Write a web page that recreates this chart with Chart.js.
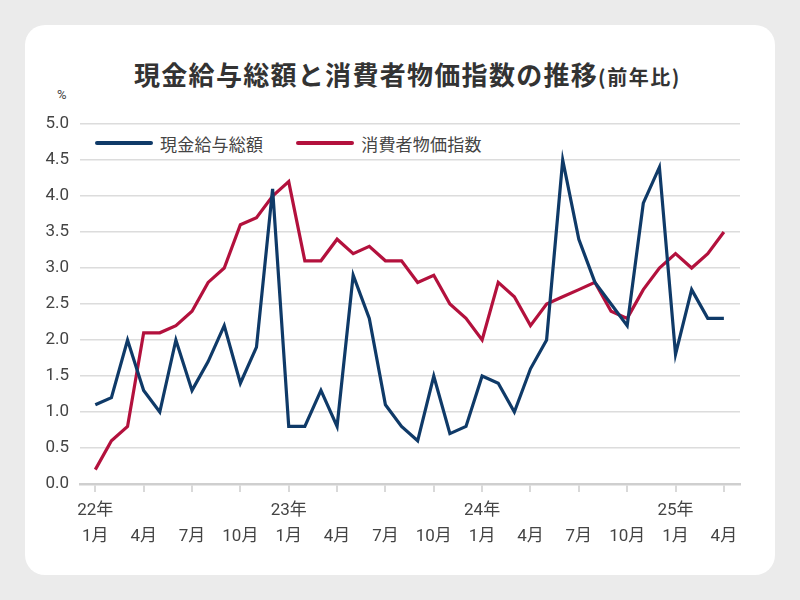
<!DOCTYPE html>
<html lang="ja">
<head>
<meta charset="utf-8">
<script src="https://cdn.jsdelivr.net/npm/chart.js@4.4.1/dist/chart.umd.min.js"></script>
<style>
  html, body { margin: 0; padding: 0; }
  body { width: 800px; height: 600px; background: #ebebeb; position: relative; overflow: hidden; font-family: 'Noto Sans CJK JP', 'Noto Sans', sans-serif; }
  #card { position: absolute; left: 25px; top: 25px; width: 750px; height: 550px; background: #fff; border-radius: 20px; }
  #title { position: absolute; left: 134px; top: 55px; white-space: nowrap; color: #333; font-weight: bold; }
  #title .main { font-size: 26px; letter-spacing: 1.3px; }
  #title .sub { font-size: 20px; letter-spacing: 1.5px; }
  #unit { position: absolute; left: 57px; top: 87px; font-size: 13px; color: #444; font-family: Roboto, sans-serif; }
  #legend { position: absolute; left: 95px; top: 130px; display: flex; align-items: center; height: 26px; }
  .item { display: flex; align-items: center; }
  .swatch { width: 58px; height: 4px; border-radius: 2px; }
  .lbl { font-size: 17px; color: #444; margin-left: 7px; letter-spacing: 0.2px; }
  canvas { position: absolute; left: 0; top: 0; }
</style>
</head>
<body>
<div id="card"></div>
<div id="title"><span class="main">現金給与総額と消費者物価指数の推移</span><span class="sub">(前年比)</span></div>
<div id="unit">%</div>
<div id="legend"></div>
<canvas id="c" width="800" height="600"></canvas>
<script>
// ---- data (22年1月 〜 25年4月, monthly) ----
const categories = [
  '22年1月','22年2月','22年3月','22年4月','22年5月','22年6月','22年7月','22年8月','22年9月','22年10月','22年11月','22年12月',
  '23年1月','23年2月','23年3月','23年4月','23年5月','23年6月','23年7月','23年8月','23年9月','23年10月','23年11月','23年12月',
  '24年1月','24年2月','24年3月','24年4月','24年5月','24年6月','24年7月','24年8月','24年9月','24年10月','24年11月','24年12月',
  '25年1月','25年2月','25年3月','25年4月'
];
const wages = [
  1.1, 1.2, 2.0, 1.3, 1.0, 2.0, 1.3, 1.7, 2.2, 1.4, 1.9, 4.1,
  0.8, 0.8, 1.3, 0.8, 2.9, 2.3, 1.1, 0.8, 0.6, 1.5, 0.7, 0.8,
  1.5, 1.4, 1.0, 1.6, 2.0, 4.5, 3.4, 2.8, 2.5, 2.2, 3.9, 4.4,
  1.8, 2.7, 2.3, 2.3
];
const cpi = [
  0.2, 0.6, 0.8, 2.1, 2.1, 2.2, 2.4, 2.8, 3.0, 3.6, 3.7, 4.0,
  4.2, 3.1, 3.1, 3.4, 3.2, 3.3, 3.1, 3.1, 2.8, 2.9, 2.5, 2.3,
  2.0, 2.8, 2.6, 2.2, 2.5, 2.6, 2.7, 2.8, 2.4, 2.3, 2.7, 3.0,
  3.2, 3.0, 3.2, 3.5
];
const seriesNames = ['現金給与総額', '消費者物価指数'];
const seriesColors = ['#0f3a68', '#b3113d'];
const tickIndex = [0, 3, 6, 9, 12, 15, 18, 21, 24, 27, 30, 33, 36, 39];
const tickYears = ['22年', '', '', '', '23年', '', '', '', '24年', '', '', '', '25年', ''];
const tickMonths = ['1月', '4月', '7月', '10月', '1月', '4月', '7月', '10月', '1月', '4月', '7月', '10月', '1月', '4月'];
const yTicks = [0, 0.5, 1.0, 1.5, 2.0, 2.5, 3.0, 3.5, 4.0, 4.5, 5.0];

// legend (HTML)
const legend = document.getElementById('legend');
seriesNames.forEach((n, i) => {
  const it = document.createElement('div');
  it.className = 'item';
  it.style.marginRight = i === 0 ? '33px' : '0';
  it.innerHTML = '<div class="swatch" style="background:' + seriesColors[i] + '"></div><div class="lbl">' + n + '</div>';
  legend.appendChild(it);
});

const toPts = arr => arr.map((v, i) => ({ x: i, y: v }));
const tickFont = { family: "Roboto, 'Noto Sans CJK JP', sans-serif", size: 17, lineHeight: '26px' };

new Chart(document.getElementById('c'), {
  type: 'line',
  data: {
    datasets: [
      { label: seriesNames[0], data: toPts(wages), borderColor: seriesColors[0], borderWidth: 3.2, pointRadius: 0, tension: 0, borderJoinStyle: 'miter', order: 1 },
      { label: seriesNames[1], data: toPts(cpi), borderColor: seriesColors[1], borderWidth: 3.2, pointRadius: 0, tension: 0, borderJoinStyle: 'miter', order: 2 }
    ]
  },
  options: {
    responsive: false,
    animation: false,
    devicePixelRatio: 1,
    layout: { padding: { top: 124, right: 60, left: 0, bottom: 0 } },
    plugins: { legend: { display: false }, tooltip: { enabled: false } },
    scales: {
      x: {
        type: 'linear',
        min: -0.95,
        max: 40,
        afterBuildTicks: s => { s.ticks = tickIndex.map(v => ({ value: v })); },
        afterFit: s => { s.height = 116; },
        grid: { drawOnChartArea: false, drawTicks: true, tickLength: 8, color: '#d9d9d9', lineWidth: 2 },
        border: { display: true, color: '#cfcfcf', width: 2.5 },
        ticks: {
          autoSkip: false,
          maxRotation: 0,
          padding: 6,
          color: '#444',
          font: tickFont,
          callback: v => { const k = tickIndex.indexOf(v); return k < 0 ? null : [tickYears[k], tickMonths[k]]; }
        }
      },
      y: {
        min: 0,
        max: 5,
        afterBuildTicks: s => { s.ticks = yTicks.map(v => ({ value: v })); },
        afterFit: s => { s.width = 80; },
        grid: { drawTicks: false, tickLength: 0, color: c => (c.tick && c.tick.value === 0) ? 'rgba(0,0,0,0)' : '#dcdcdc', lineWidth: 1.5 },
        border: { display: false },
        ticks: { padding: 11, color: '#444', font: { family: "Roboto, sans-serif", size: 17 }, callback: v => Number(v).toFixed(1) }
      }
    }
  }
});
</script>
</body>
</html>
